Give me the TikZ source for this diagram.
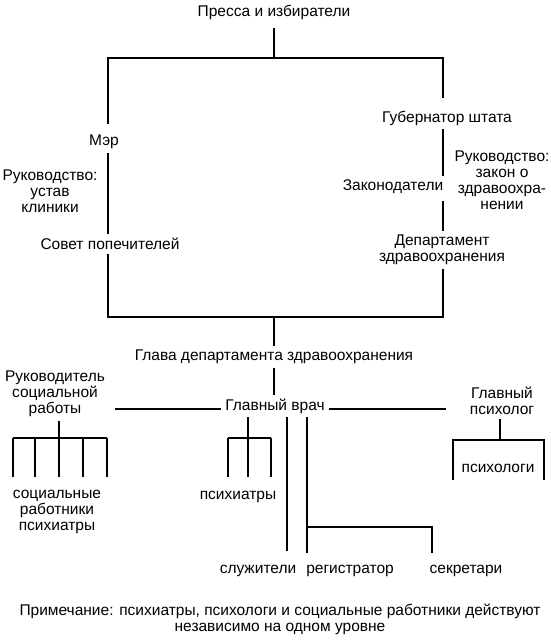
\documentclass[tikz,border=0pt]{standalone}
\usepackage{fontspec}
\setmainfont{Liberation Sans}
\begin{document}
\begin{tikzpicture}[x=1pt,y=-1pt,
  lbl/.style={font=\fontsize{15.5}{16}\selectfont, inner sep=0pt, outer sep=4pt, align=center},
  ln/.style={line width=1.8pt}]
\useasboundingbox (0,0) rectangle (550,644);
% nodes
\node[lbl] (press) at (274,12) {Пресса и избиратели};
\node[lbl] (mayor) at (104,142) {Мэр};
\node[lbl] (lrule) at (50,191) {Руководство:\\устав\\клиники};
\node[lbl] (board) at (110,244) {Совет попечителей};
\node[lbl] (gov) at (447,118) {Губернатор штата};
\node[lbl] (rrule) at (502,180) {Руководство:\\закон о\\здравоохра-\\нении};
\node[lbl] (legis) at (393,187) {Законодатели};
\node[lbl] (dept) at (442,250) {Департамент\\здравоохранения};
\node[lbl] (glava) at (274,357) {Глава департамента здравоохранения};
\node[lbl] (chief) at (275,406) {Главный врач};
\node[lbl] (swhead) at (55,394) {Руководитель\\социальной\\работы};
\node[lbl] (psyhead) at (502,401) {Главный\\психолог};
\node[lbl] (swlabel) at (57,512) {социальные\\работники\\психиатры};
\node[lbl] (psylabel) at (238,497) {психиатры};
\node[lbl] (psylogs) at (498,468) {психологи};
\node[lbl] (attend) at (258,571) {служители};
\node[lbl] (regist) at (350,571) {регистратор};
\node[lbl] (secr) at (466,571) {секретари};
\node[lbl] (note) at (280,619) {Примечание: психиатры, психологи и социальные работники действуют\\независимо на одном уровне};
% coordinates
\coordinate (j1) at (274,58);
\coordinate (L) at (108,0);
\coordinate (R) at (443,0);
\coordinate (j2) at (274,317);
\coordinate (hy) at (0,409);
\coordinate (sf) at (59,438);
\coordinate (pf) at (248,438);
\coordinate (pc) at (500,440);
\coordinate (A) at (287,0);
\coordinate (B) at (307,0);
\coordinate (br) at (307,527);
\coordinate (S) at (432,0);
% upper part
\draw[ln, shorten <=5pt] (press.south) -- (j1);
\draw[ln, shorten >=7pt] (j1) -| (mayor.north -| L);
\draw[ln, shorten >=9pt] (j1) -| (gov.north -| R);
\draw[ln] (mayor.south -| L) -- (board.north -| L);
\draw[ln] (gov.south -| R) -- (legis.north -| R);
\draw[ln, shorten <=3pt] (legis.south -| R) -- (dept.north -| R);
\draw[ln] (board.south -| L) |- (j2);
\draw[ln] (dept.south -| R) |- (j2);
\draw[ln] (j2) -- (glava.north);
\draw[ln] (glava.south) -- (glava.south |- chief.north);
% middle
\draw[ln, shorten <=6pt] (swhead.east |- hy) -- (chief.west |- hy);
\draw[ln, shorten >=20pt] (chief.east |- hy) -- (psyhead.west |- hy);
% social workers fork
\draw[ln] (swhead.south -| sf) -- (sf);
\foreach \x in {13,35,59,83,107} {
  \coordinate (swp\x) at (\x,477);
  \draw[ln] (swp\x) -- (swp\x |- sf);
}
\draw[ln] (swp13 |- sf) -- (swp107 |- sf);
% psychiatrists fork
\draw[ln] (chief.south -| pf) -- (pf);
\foreach \x in {228,248,271} {
  \coordinate (pp\x) at (\x,477);
  \draw[ln] (pp\x) -- (pp\x |- pf);
}
\draw[ln] (pp228 |- pf) -- (pp271 |- pf);
% service staff
\draw[ln, shorten >=10pt] (chief.south -| A) -- (attend.north -| A);
\draw[ln, shorten >=8pt] (chief.south -| B) -- (regist.north -| B);
\draw[ln, shorten >=8pt] (br) -| (secr.north -| S);
% psychologists fork
\draw[ln] (psyhead.south -| pc) -- (pc);
\coordinate (pl) at (453,480);
\coordinate (pr) at (544,480);
\draw[ln] (pl) -- (pl |- pc) -- (pr |- pc) -- (pr);
\end{tikzpicture}
\end{document}
